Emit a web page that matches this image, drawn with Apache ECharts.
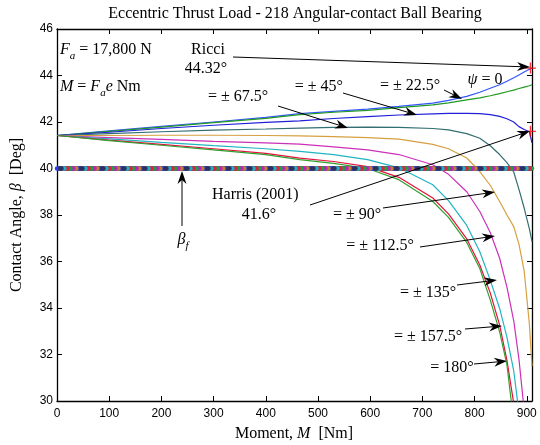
<!DOCTYPE html>
<html>
<head>
<meta charset="utf-8">
<script src="https://cdn.jsdelivr.net/npm/echarts@6/dist/echarts.min.js"></script>
<style>html,body{margin:0;padding:0;background:#fff}#c{width:540px;height:445px}</style>
</head>
<body>
<div id="c"></div>
<script>
// ---- data ----
const moments = [0,100,200,300,400,465,530,595,655,720,750,785,810,830,848,862,875,885,895,905,910];
const psi0   = [41.42,41.62,41.81,42.00,42.20,42.36,42.46,42.55,42.67,42.81,42.93,43.10,43.28,43.45,43.60,43.75,43.90,44.02,44.15,44.27,44.32];
const psi22  = [41.42,41.60,41.78,41.97,42.16,42.32,42.42,42.50,42.62,42.74,42.82,42.95,43.04,43.13,43.22,43.30,43.37,43.44,43.50,43.56,43.60];
const psi45  = [41.42,41.56,41.72,41.86,41.98,42.05,42.15,42.23,42.30,42.35,42.37,42.37,42.36,42.32,42.24,42.14,42.00,41.80,41.68,41.58,41.10];
const psi67  = [41.42,41.50,41.58,41.65,41.70,41.74,41.77,41.78,41.77,41.72,41.66,41.50,41.30,40.98,40.60,40.25,39.85,39.10,38.30,37.40,36.85];
const psi90  = [41.42,41.42,41.43,41.43,41.42,41.40,41.37,41.33,41.26,41.04,40.85,40.45,39.87,39.28,38.58,38.00,37.50,36.75,35.60,33.30,31.50];
const psi112 = [41.42,41.33,41.25,41.17,41.10,41.05,40.93,40.80,40.60,40.16,39.75,39.00,38.15,37.25,36.14,34.90,33.45,31.80,29.60,null,null];
const psi135 = [41.42,41.27,41.12,40.98,40.85,40.74,40.60,40.38,40.03,39.30,38.62,37.55,36.42,35.20,33.98,32.75,31.30,29.50,null,null,null];
const psi157 = [41.42,41.22,41.04,40.85,40.65,40.45,40.30,40.08,39.62,38.73,38.05,36.97,35.85,34.65,33.26,31.75,29.90,null,null,null,null];
const psi180 = [41.42,41.20,41.00,40.80,40.60,40.38,40.22,40.00,39.52,38.58,37.90,36.82,35.70,34.35,32.97,31.55,29.10,null,null,null,null];
const betaF = 40.0;               // free contact angle line
const betaFRange = [0, 910];
const ricci = [907, 44.32];
const harris = [907, 41.6];
const xTicks = [0,100,200,300,400,500,600,700,800,900];
const yTicks = [30,32,34,36,38,40,42,44,46];

const curves = [
  {name:'0',     data:psi0,   color:'#3355ff'},
  {name:'22.5',  data:psi22,  color:'#229922'},
  {name:'45',    data:psi45,  color:'#2020d8'},
  {name:'67.5',  data:psi67,  color:'#336e72'},
  {name:'90',    data:psi90,  color:'#d6a040'},
  {name:'112.5', data:psi112, color:'#cc30b8'},
  {name:'135',   data:psi135, color:'#20b5c0'},
  {name:'157.5', data:psi157, color:'#e8103c'},
  {name:'180',   data:psi180, color:'#30a030'}
];

const SERIF = "'Liberation Serif','Times New Roman',serif";
const SANS = "'Liberation Sans',Arial,Helvetica,sans-serif";

const chart = echarts.init(document.getElementById('c'), null, {renderer:'canvas'});

function pairs(arr){ const out=[]; moments.forEach((m,i)=>{ if(arr[i]!==null) out.push([m,arr[i]]); }); return out; }

const series = curves.map(c=>({
  type:'line', name:c.name, data:pairs(c.data), showSymbol:false, symbol:'none',
  lineStyle:{color:c.color, width:1.2}, xAxisIndex:0, yAxisIndex:0, z:2, silent:true, animation:false
}));

// beta_f: thick dotted band of mixed-colour dots
series.push({
  type:'line', data:betaFRange.map(m=>[m,betaF]), showSymbol:false, symbol:'none', silent:true, animation:false,
  lineStyle:{color:'#555577', width:5}, z:3
});
const dotColors = ['#2040ff','#c08030','#c020c0','#20a040','#e02040','#20b0c0','#303060'];
dotColors.forEach((col,k)=>{
  series.push({
    type:'line', data:betaFRange.map(m=>[m,betaF]), showSymbol:false, symbol:'none', silent:true, animation:false,
    lineStyle:{color:col, width:4.5, type:[1.5,19.5], dashOffset:k*3, cap:'round'}, z:4
  });
});

const plusPath = 'path://M0,4.4 L10,4.4 L10,5.6 L0,5.6 Z M4.4,0 L5.6,0 L5.6,10 L4.4,10 Z';
series.push({
  type:'scatter', data:[ricci, harris], symbol:plusPath, symbolSize:11,
  itemStyle:{color:'#ff0000'}, z:6, silent:true, animation:false
});

const axisCommon = {
  type:'value', splitLine:{show:false},
  axisLine:{show:true, onZero:false, lineStyle:{color:'#000', width:1.3}},
  axisTick:{show:true, inside:true, length:5, lineStyle:{color:'#000', width:1}}
};

// ---- annotations ----
function arrow(x1,y1,x2,y2){
  const dx=x2-x1, dy=y2-y1, len=Math.hypot(dx,dy), ux=dx/len, uy=dy/len;
  const L=13, W=4.5, N=4;
  const bx=x2-ux*L, by=y2-uy*L, nx=-uy, ny=ux;
  const notch=[x2-ux*(L-N), y2-uy*(L-N)];
  return [
    {type:'line', shape:{x1:x1,y1:y1,x2:notch[0],y2:notch[1]}, style:{stroke:'#000', lineWidth:1}, z:10},
    {type:'polygon', shape:{points:[[x2,y2],[bx+nx*W,by+ny*W],notch,[bx-nx*W,by-ny*W]]}, style:{fill:'#000'}, z:10}
  ];
}
const rich = {
  n:{fontFamily:SERIF, fontSize:16, color:'#000', lineHeight:24, verticalAlign:'middle'},
  i:{fontFamily:SERIF, fontSize:16, color:'#000', fontStyle:'italic', lineHeight:24, verticalAlign:'middle'},
  s:{fontFamily:SERIF, fontSize:11, color:'#000', fontStyle:'italic', lineHeight:10, verticalAlign:'bottom'}
};
function txt(x,y,text,align){
  return {type:'text', x:x, y:y, z:10, style:{text:text, rich:rich, align:align||'center', verticalAlign:'middle', fontFamily:SERIF, fontSize:16, fill:'#000'}};
}
const graphics = [
  txt(295,14,'{n|Eccentric Thrust Load - 218 Angular-contact Ball Bearing}'),
  txt(60,50,'{i|F}{s|a}{n| = 17,800 N}','left'),
  txt(60,87,'{i|M}{n| = }{i|F}{s|a}{i|e}{n| Nm}','left'),
  txt(208,50,'{n|Ricci}'),
  txt(206,69,'{n|44.32°}'),
  txt(485,80,'{i|ψ}{n| = 0}'),
  txt(410,86,'{n|= ± 22.5°}'),
  txt(343,87,'{n|= ± 45°}','right'),
  txt(208,97,'{n|= ± 67.5°}','left'),
  txt(212,195,'{n|Harris (2001)}','left'),
  txt(259,215,'{n|41.6°}'),
  txt(183,240,'{i|β}{s|f}'),
  txt(357,215,'{n|= ± 90°}'),
  txt(380,246,'{n|= ± 112.5°}'),
  txt(428,293,'{n|= ± 135°}'),
  txt(428,337,'{n|= ± 157.5°}'),
  txt(452,368,'{n|= 180°}'),
  {type:'text', x:294, y:434, z:10, style:{text:'{n|Moment, }{i|M}{n|  [Nm]}', rich:rich, align:'center', verticalAlign:'middle'}},
  {type:'text', x:17, y:215, rotation:Math.PI/2, z:10, style:{text:'{n|Contact Angle, }{i|β}{n|  [Deg]}', rich:rich, align:'center', verticalAlign:'middle'}}
];
[
  [233,57,530,67],[444,90,462,99],[343,93,417,115],[278,106,348,128],
  [310,205,530,131],[182,226,182,171],[383,208,495,192],[420,247,495,236],
  [457,285,497,280],[465,329,502,326],[474,364,507,361]
].forEach(a=>graphics.push(...arrow(a[0],a[1],a[2],a[3])));

chart.setOption({
  animation:false,
  backgroundColor:'#fff',
  grid:{left:57, right:8, top:29, bottom:44, containLabel:false},
  xAxis:[
    Object.assign({}, axisCommon, {position:'bottom', min:0, max:910, interval:100,
      axisLabel:{color:'#000', fontFamily:SANS, fontSize:12, margin:7,
        formatter:v=>xTicks.includes(v)?String(v):''}}),
    Object.assign({}, axisCommon, {position:'top', min:0, max:910, interval:100, axisLabel:{show:false}})
  ],
  yAxis:[
    Object.assign({}, axisCommon, {position:'left', min:30, max:46, interval:2,
      axisLabel:{color:'#000', fontFamily:SANS, fontSize:12, margin:4,
        formatter:v=>yTicks.includes(v)?String(v):''}}),
    Object.assign({}, axisCommon, {position:'right', min:30, max:46, interval:2, axisLabel:{show:false}})
  ],
  series:series,
  graphic:graphics
});
</script>
</body>
</html>
